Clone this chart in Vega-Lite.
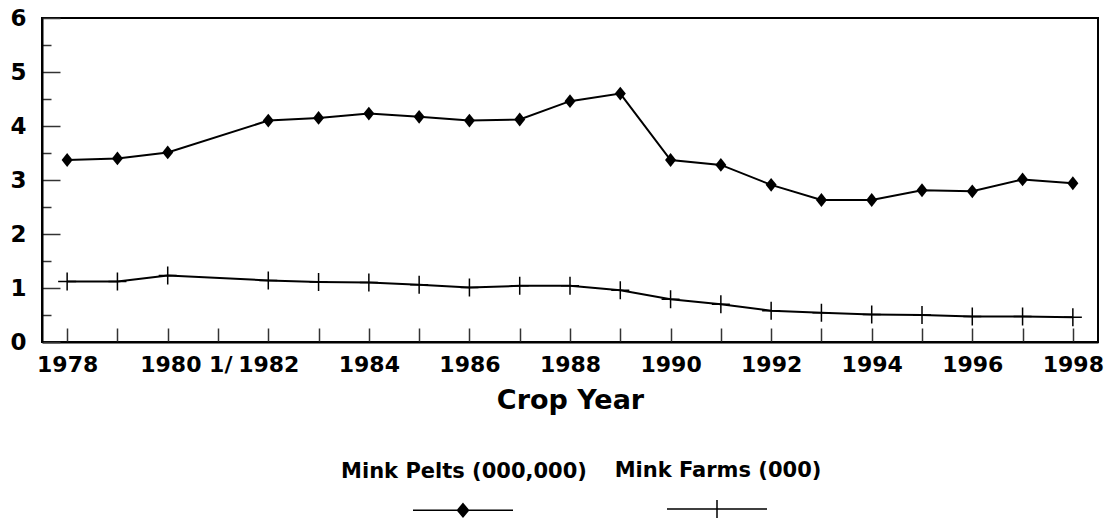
{
  "$schema": "https://vega.github.io/schema/vega-lite/v6.json",
  "width": 1056,
  "height": 324,
  "autosize": {"type": "none"},
  "padding": {"left": 42, "top": 18, "right": 12, "bottom": 176},
  "background": "white",
  "config": {
    "font": "DejaVu Sans",
    "view": {"stroke": "black", "strokeWidth": 2}
  },
  "data": {
    "values": [
      {"year": 1978, "series": "Mink Pelts (000,000)", "value": 3.37},
      {"year": 1979, "series": "Mink Pelts (000,000)", "value": 3.40},
      {"year": 1980, "series": "Mink Pelts (000,000)", "value": 3.51},
      {"year": 1982, "series": "Mink Pelts (000,000)", "value": 4.10},
      {"year": 1983, "series": "Mink Pelts (000,000)", "value": 4.15},
      {"year": 1984, "series": "Mink Pelts (000,000)", "value": 4.23},
      {"year": 1985, "series": "Mink Pelts (000,000)", "value": 4.17},
      {"year": 1986, "series": "Mink Pelts (000,000)", "value": 4.10},
      {"year": 1987, "series": "Mink Pelts (000,000)", "value": 4.12},
      {"year": 1988, "series": "Mink Pelts (000,000)", "value": 4.46},
      {"year": 1989, "series": "Mink Pelts (000,000)", "value": 4.60},
      {"year": 1990, "series": "Mink Pelts (000,000)", "value": 3.37},
      {"year": 1991, "series": "Mink Pelts (000,000)", "value": 3.28},
      {"year": 1992, "series": "Mink Pelts (000,000)", "value": 2.91},
      {"year": 1993, "series": "Mink Pelts (000,000)", "value": 2.63},
      {"year": 1994, "series": "Mink Pelts (000,000)", "value": 2.63},
      {"year": 1995, "series": "Mink Pelts (000,000)", "value": 2.81},
      {"year": 1996, "series": "Mink Pelts (000,000)", "value": 2.79},
      {"year": 1997, "series": "Mink Pelts (000,000)", "value": 3.01},
      {"year": 1998, "series": "Mink Pelts (000,000)", "value": 2.94},
      {"year": 1978, "series": "Mink Farms (000)", "value": 1.12},
      {"year": 1979, "series": "Mink Farms (000)", "value": 1.12},
      {"year": 1980, "series": "Mink Farms (000)", "value": 1.23},
      {"year": 1982, "series": "Mink Farms (000)", "value": 1.14},
      {"year": 1983, "series": "Mink Farms (000)", "value": 1.11},
      {"year": 1984, "series": "Mink Farms (000)", "value": 1.10},
      {"year": 1985, "series": "Mink Farms (000)", "value": 1.06},
      {"year": 1986, "series": "Mink Farms (000)", "value": 1.01},
      {"year": 1987, "series": "Mink Farms (000)", "value": 1.04},
      {"year": 1988, "series": "Mink Farms (000)", "value": 1.04},
      {"year": 1989, "series": "Mink Farms (000)", "value": 0.96},
      {"year": 1990, "series": "Mink Farms (000)", "value": 0.79},
      {"year": 1991, "series": "Mink Farms (000)", "value": 0.70},
      {"year": 1992, "series": "Mink Farms (000)", "value": 0.58},
      {"year": 1993, "series": "Mink Farms (000)", "value": 0.54},
      {"year": 1994, "series": "Mink Farms (000)", "value": 0.51},
      {"year": 1995, "series": "Mink Farms (000)", "value": 0.50},
      {"year": 1996, "series": "Mink Farms (000)", "value": 0.47},
      {"year": 1997, "series": "Mink Farms (000)", "value": 0.47},
      {"year": 1998, "series": "Mink Farms (000)", "value": 0.46}
    ]
  },
  "encoding": {
    "x": {
      "field": "year",
      "type": "quantitative",
      "scale": {"domain": [1977.5, 1998.5], "nice": false, "zero": false},
      "axis": {
        "title": "Crop Year",
        "titleFont": "DejaVu Sans",
        "titleFontSize": 27,
        "titleFontWeight": "bold",
        "titleColor": "black",
        "titlePadding": 12,
        "values": [1978, 1979, 1980, 1981, 1982, 1983, 1984, 1985, 1986, 1987, 1988, 1989, 1990, 1991, 1992, 1993, 1994, 1995, 1996, 1997, 1998],
        "labelExpr": "datum.value == 1980 ? '1980 1/' : (datum.value % 2 == 0 ? '' + datum.value : '')",
        "labelAlign": {"condition": {"test": "datum.value == 1980", "value": "left"}, "value": "center"},
        "labelOffset": {"condition": {"test": "datum.value == 1980", "value": -28}, "value": 0},
        "labelFontSize": 22,
        "labelFontWeight": "bold",
        "labelColor": "black",
        "labelPadding": 26,
        "labelOverlap": false,
        "labelFlush": false,
        "tickSize": -14,
        "tickWidth": 1.5,
        "tickColor": "#333333",
        "domainColor": "black",
        "domainWidth": 2,
        "grid": false
      }
    },
    "y": {
      "field": "value",
      "type": "quantitative",
      "scale": {"domain": [0, 6], "nice": false},
      "axis": {
        "title": null,
        "values": [0, 0.5, 1, 1.5, 2, 2.5, 3, 3.5, 4, 4.5, 5, 5.5, 6],
        "labelExpr": "datum.value % 1 == 0 ? '' + datum.value : ''",
        "labelFontSize": 23,
        "labelFontWeight": "bold",
        "labelColor": "black",
        "labelPadding": 34,
        "labelOverlap": false,
        "labelFlush": false,
        "tickSize": {"condition": {"test": "datum.value % 1 != 0", "value": -9}, "value": -18},
        "tickWidth": 1.5,
        "tickColor": "#333333",
        "domainColor": "black",
        "domainWidth": 2,
        "grid": false
      }
    }
  },
  "layer": [
    {
      "mark": {"type": "line", "color": "black", "strokeWidth": 2},
      "encoding": {"detail": {"field": "series", "type": "nominal"}}
    },
    {
      "transform": [{"filter": "datum.series == 'Mink Pelts (000,000)'"}],
      "mark": {"type": "point", "shape": "M0,-1.15L0.92,0L0,1.15L-0.92,0Z", "size": 144, "filled": true, "color": "black", "opacity": 1}
    },
    {
      "transform": [{"filter": "datum.series == 'Mink Farms (000)'"}],
      "mark": {"type": "point", "shape": "M0,-1V1M-1,0H1", "size": 324, "filled": false, "color": "black", "strokeWidth": 1.5, "opacity": 1}
    },
    {
      "transform": [{"filter": "datum.year < 0"}],
      "mark": {"type": "point", "filled": false, "color": "black", "strokeWidth": 1.5, "size": 10000, "opacity": 1},
      "encoding": {
        "shape": {
          "field": "series",
          "type": "nominal",
          "scale": {
            "domain": ["Mink Pelts (000,000)", "Mink Farms (000)"],
            "range": [
              "M-1,0.76H1M0,0.63V0.89M0,0.63L0.11,0.76L0,0.89L-0.11,0.76ZM0,0.66L0.085,0.76L0,0.86L-0.085,0.76ZM0,0.69L0.06,0.76L0,0.83L-0.06,0.76ZM0,0.72L0.035,0.76L0,0.8L-0.035,0.76Z",
              "M-1,0.76H1M0,0.58V0.94"
            ]
          },
          "legend": {
            "title": null,
            "orient": "none",
            "legendX": 370,
            "legendY": 402,
            "direction": "horizontal",
            "columns": 2,
            "columnPadding": 27,
            "padding": 0,
            "symbolSize": 10000,
            "symbolStrokeColor": "black",
            "symbolStrokeWidth": 1.5,
            "symbolOpacity": 1,
            "labelAlign": "center",
            "labelOffset": -50,
            "labelFont": "DejaVu Sans",
            "labelFontSize": 21,
            "labelFontWeight": "bold",
            "labelColor": "black",
            "labelLimit": 400
          }
        }
      }
    }
  ]
}
